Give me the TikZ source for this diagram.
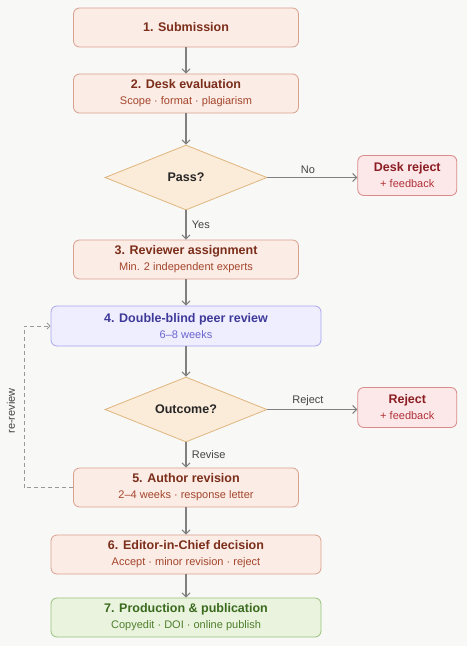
\documentclass[tikz,border=0pt]{standalone}
\usepackage{fontspec}
\setmainfont{Liberation Sans}
\usetikzlibrary{shapes.geometric, arrows.meta, positioning, calc}
\definecolor{pagebg}{RGB}{248,248,246}
\definecolor{stepbg}{RGB}{251,236,230}
\definecolor{stepline}{RGB}{217,160,142}
\definecolor{steptitle}{RGB}{123,46,26}
\definecolor{stepsub}{RGB}{164,69,43}
\definecolor{rejbg}{RGB}{252,232,232}
\definecolor{rejline}{RGB}{217,140,140}
\definecolor{rejtitle}{RGB}{139,30,36}
\definecolor{rejsub}{RGB}{176,48,58}
\definecolor{revbg}{RGB}{238,238,254}
\definecolor{revline}{RGB}{169,166,238}
\definecolor{revtitle}{RGB}{63,58,154}
\definecolor{revsub}{RGB}{106,100,208}
\definecolor{pubbg}{RGB}{234,243,222}
\definecolor{publine}{RGB}{152,194,124}
\definecolor{pubtitle}{RGB}{58,106,30}
\definecolor{pubsub}{RGB}{78,127,44}
\definecolor{decbg}{RGB}{251,235,217}
\definecolor{decline}{RGB}{224,183,127}
\definecolor{flowgray}{RGB}{128,128,128}
\definecolor{labgray}{RGB}{68,68,68}
\newcommand{\titlefont}{\fontsize{12.5}{16}\selectfont\bfseries}
\newcommand{\subfont}{\fontsize{11}{14}\selectfont}
\tikzset{
  basebox/.style={rectangle, rounded corners=6pt, line width=0.8pt,
                  minimum height=39pt, align=center, inner sep=2pt,
                  font=\titlefont},
  stepbox/.style={basebox, draw=stepline, fill=stepbg, text=steptitle,
                  minimum width=225pt},
  widebox/.style={stepbox, minimum width=270pt},
  rejbox/.style={basebox, draw=rejline, fill=rejbg, text=rejtitle,
                 minimum width=99pt, minimum height=40pt},
  revbox/.style={basebox, draw=revline, fill=revbg, text=revtitle,
                 minimum width=270pt, minimum height=40pt},
  pubbox/.style={basebox, draw=publine, fill=pubbg, text=pubtitle,
                 minimum width=270pt},
  decision/.style={diamond, shape aspect=2.5, draw=decline, fill=decbg,
                   line width=0.8pt, minimum width=162pt, minimum height=65pt,
                   inner sep=0pt, text=black!85, font=\titlefont},
  flow/.style={-{Straight Barb[length=4pt, width=8pt]}, line width=1.1pt,
               color=flowgray},
  rereview/.style={-{Straight Barb[length=3pt, width=6pt]}, line width=0.9pt,
                   color=flowgray!80, dash pattern=on 4pt off 3pt},
  lab/.style={font=\subfont, text=labgray},
}
\begin{document}
\begin{tikzpicture}[x=1pt, y=1pt]
  \fill[pagebg] (0,0) rectangle (467,-646);
  \useasboundingbox (0,0) rectangle (467,-646);

  \node[stepbox] (submit) at (186,-27.5) {1. Submission};
  \node[stepbox] (desk) at (186,-93.5)
    {2. Desk evaluation\\{\subfont\mdseries\color{stepsub}Scope · format · plagiarism}};
  \node[decision] (pass) at (186,-177.5) {Pass?};
  \node[rejbox, right=90pt of pass, yshift=2pt] (deskrej)
    {Desk reject\\{\subfont\mdseries\color{rejsub}+ feedback}};
  \node[stepbox] (assign) at (186,-259.5)
    {3. Reviewer assignment\\{\subfont\mdseries\color{stepsub}Min. 2 independent experts}};
  \node[revbox] (peer) at (186,-326)
    {4. Double-blind peer review\\{\subfont\mdseries\color{revsub}6–8 weeks}};
  \node[decision] (outcome) at (186,-409.5) {Outcome?};
  \node[rejbox, right=90pt of outcome, yshift=2pt] (reject)
    {Reject\\{\subfont\mdseries\color{rejsub}+ feedback}};
  \node[stepbox] (revision) at (186,-487.5)
    {5. Author revision\\{\subfont\mdseries\color{stepsub}2–4 weeks · response letter}};
  \node[widebox] (eic) at (186,-554.5)
    {6. Editor-in-Chief decision\\{\subfont\mdseries\color{stepsub}Accept · minor revision · reject}};
  \node[pubbox] (publish) at (186,-617.5)
    {7. Production \& publication\\{\subfont\mdseries\color{pubsub}Copyedit · DOI · online publish}};

  \draw[flow] (submit) -- (desk);
  \draw[flow] (desk) -- (pass);
  \draw[flow] (pass) -- node[lab, above, pos=0.45] {No} (deskrej.west |- pass.east);
  \draw[flow] (pass) -- node[lab, right, pos=0.5, xshift=2pt] {Yes} (assign);
  \draw[flow] (assign) -- (peer);
  \draw[flow] (peer) -- (outcome);
  \draw[flow] (outcome) -- node[lab, above, pos=0.45] {Reject} (reject.west |- outcome.east);
  \draw[flow] (outcome) -- node[lab, right, pos=0.5, xshift=2pt] {Revise} (revision);
  \draw[flow] (revision) -- (eic);
  \draw[flow] (eic) -- (publish);

  % loop back for another round
  \coordinate (lowturn) at (24,0 |- revision.west);
  \coordinate (highturn) at (24,0 |- peer.west);
  \draw[rereview] (revision.west) -- (lowturn) -- (highturn) -- (peer.west);
  \node[lab, rotate=90] (relab) at (11,-411) {re-review};
\end{tikzpicture}
\end{document}
